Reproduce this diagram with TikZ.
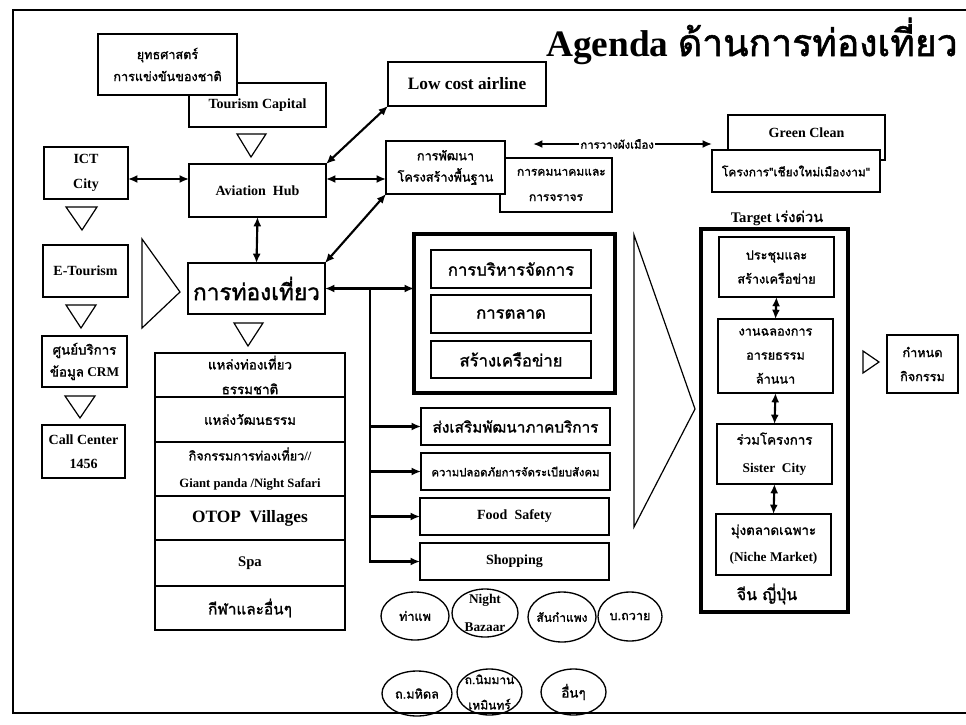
\documentclass[tikz,border=0pt]{standalone}
\usepackage{fontspec}
\setmainfont{Liberation Serif}
\newfontfamily\thf[Script=Thai, AutoFakeBold=1.5]{Loma}
\usetikzlibrary{arrows.meta,shapes.geometric}

% one unit = one pixel of a 966 x 724 sheet, y running downwards
% \pbox[style]{name}{x1}{y1}{x2}{y2}{font}{text}
\newcommand\pbox[8][bx]{%
  \node[#1, font={\bfseries#7}, minimum width={(#5-#3)*0.75pt},
        minimum height={(#6-#4)*0.75pt}]
    (#2) at ({(#3+#5)/2},{(#4+#6)/2}) {#8};}
\newcommand\fs[2]{\fontsize{#1}{#2}\selectfont}

\tikzset{
  bx/.style={draw, line width=1pt, fill=white, inner sep=0pt, outer sep=0pt,
             align=center},
  fat/.style={draw, line width=3pt, inner sep=0pt, outer sep=0pt},
  bubble/.style={draw, ellipse, line width=1pt, inner sep=0pt, outer sep=0pt},
  tri/.style={draw, line width=0.9pt, fill=white, line join=miter},
  link/.style={line width=1.6pt, {Latex[length=7pt,width=6pt]}-{Latex[length=7pt,width=6pt]}},
  feed/.style={line width=1.6pt, -{Latex[length=7pt,width=6pt]}},
  lbl/.style={inner sep=0pt, align=center},
}

\begin{document}
\begin{tikzpicture}[x=0.75pt, y=-0.75pt]
\useasboundingbox (0,0) rectangle (966,724);

% sheet frame
\draw[line width=1.5pt] (966,10) -- (13,10) -- (13,713) -- (966,713);

% title
\node[lbl, anchor=east, font=\bfseries\fs{28}{32}] (title) at (958,41)
  {Agenda {\thf ด้านการท่องเที่ยว}};

% top-left cluster
\pbox{tcap}{189}{83}{326}{127}{\fs{10.5}{12}}{\raisebox{-3pt}{Tourism Capital}}
\pbox{strat}{98}{34}{237}{95}{\thf\fs{9.5}{16.5}}{ยุทธศาสตร์\\การแข่งขันของชาติ}
\draw[tri] (237,134) -- (266,134) -- (251,157) -- cycle;

\pbox{ict}{44}{147}{128}{199}{\fs{10.5}{19}}{ICT\\City}
\pbox{avi}{189}{164}{326}{217}{\fs{10.5}{12}}{Aviation\ \ Hub}
\pbox{lowcost}{388}{62}{546}{106}{\fs{13}{15}}{Low cost airline}

\pbox{traffic}{500}{158}{612}{212}{\thf\fs{9}{19}}{\hspace*{8pt}การคมนาคมและ\\การจราจร}
\pbox{dev}{386}{141}{505}{194}{\thf\fs{9.5}{16}}{การพัฒนา\\โครงสร้างพื้นฐาน}

\pbox{green}{728}{115}{885}{160}{\fs{10.5}{12}}{\raisebox{8pt}{Green Clean}}
\pbox{cmnice}{712}{150}{880}{192}{\thf\fs{9}{12}}{โครงการ"เชียงใหม่เมืองงาม"}

\coordinate (pa) at (533,144);
\coordinate (pb) at (712,144);
\draw[link] (pa) -- node[lbl, fill=white, inner xsep=1pt, pos=0.47,
  font=\bfseries\thf\fs{8.5}{10}] (plan) {การวางผังเมือง} (pb);

% left column
\draw[tri] (66,207) -- (97,207) -- (82,230) -- cycle;
\pbox{etour}{43}{245}{128}{297}{\fs{10.5}{12}}{E-Tourism}
\draw[tri] (66,305) -- (96,305) -- (81,328) -- cycle;
\pbox{crm}{42}{336}{127}{387}{\fs{10}{16.5}}{{\thf ศูนย์บริการ}\\{\thf ข้อมูล} CRM}
\draw[tri] (65,396) -- (95,396) -- (80,418) -- cycle;
\pbox{call}{42}{425}{125}{478}{\fs{10.5}{18}}{Call Center\\1456}

\draw[tri] (142,239) -- (180,292) -- (142,328) -- cycle;

% tourism core
\pbox{tour}{188}{263}{325}{314}{\thf\fs{17}{20}}{การท่องเที่ยว}
\draw[tri] (234,323) -- (263,323) -- (248,346) -- cycle;

\pbox{r1}{155}{353}{345}{397}{\thf\fs{10}{18.5}}{แหล่งท่องเที่ยว\\ธรรมชาติ}
\pbox{r2}{155}{397}{345}{442}{\thf\fs{10}{12}}{แหล่งวัฒนธรรม}
\pbox{r3}{155}{442}{345}{496}{\fs{9.5}{20.5}}{{\thf กิจกรรมการท่องเที่ยว}//\\Giant panda /Night Safari}
\pbox{r4}{155}{496}{345}{540}{\fs{13}{15}}{OTOP\ \ Villages}
\pbox{r5}{155}{540}{345}{586}{\fs{11}{13}}{Spa}
\pbox{r6}{155}{586}{345}{630}{\thf\fs{11.5}{14}}{กีฬาและอื่นๆ}

% management block
\pbox[fat]{mgmt}{414}{234}{615}{393}{}{}
\pbox{m1}{431}{250}{591}{288}{\thf\fs{12.5}{15}}{การบริหารจัดการ}
\pbox{m2}{431}{295}{591}{333}{\thf\fs{12.5}{15}}{การตลาด}
\pbox{m3}{431}{341}{591}{378}{\thf\fs{12.5}{15}}{สร้างเครือข่าย}

\pbox{s1}{421}{408}{610}{445}{\thf\fs{11.5}{14}}{ส่งเสริมพัฒนาภาคบริการ}
\pbox{s2}{421}{453}{610}{490}{\thf\fs{8.5}{10}}{ความปลอดภัยการจัดระเบียบสังคม}
\pbox{s3}{420}{498}{609}{535}{\fs{10.5}{12}}{Food\ \ Safety}
\pbox{s4}{420}{543}{609}{580}{\fs{10.5}{12}}{Shopping}

% shopping areas: outline first, then the name on it
\pbox[bubble]{e1}{381}{592}{449}{640}{}{}
\pbox[bubble]{e2}{452}{589}{518}{637}{}{}
\pbox[bubble]{e3}{528}{592}{596}{642}{}{}
\pbox[bubble]{e4}{598}{592}{662}{641}{}{}
\pbox[bubble]{e5}{382}{671}{452}{716}{}{}
\pbox[bubble]{e6}{457}{669}{522}{715}{}{}
\pbox[bubble]{e7}{541}{669}{606}{715}{}{}
\node[lbl, font=\bfseries\thf\fs{9.5}{12}] (e1t) at (e1) {ท่าแพ};
\node[lbl, font=\bfseries\fs{10}{21}] (e2t) at (e2) {Night\\Bazaar};
\node[lbl, font=\bfseries\thf\fs{9}{12}] (e3t) at (e3) {สันกำแพง};
\node[lbl, font=\bfseries\thf\fs{9.5}{12}] (e4t) at (e4) {บ.ถวาย};
\node[lbl, font=\bfseries\thf\fs{9.5}{12}] (e5t) at (e5) {ถ.มหิดล};
\node[lbl, font=\bfseries\thf\fs{9}{19}] (e6t) at (e6) {ถ.นิมมาน\\เหมินทร์};
\node[lbl, font=\bfseries\thf\fs{10}{12}] (e7t) at (e7) {อื่นๆ};

% urgent targets
\draw[line width=0.9pt, line join=miter] (634,235) -- (695,409) -- (634,527) -- cycle;
\node[lbl, font=\bfseries\fs{11}{13}] (tgt) at (777,218) {Target {\thf เร่งด่วน}};
\pbox[fat]{tbox}{701}{229}{848}{612}{}{}
\pbox{t1}{719}{237}{834}{297}{\thf\fs{9.5}{18}}{ประชุมและ\\สร้างเครือข่าย}
\pbox{t2}{718}{319}{833}{393}{\thf\fs{9.5}{18}}{งานฉลองการ\\อารยธรรม\\ล้านนา}
\pbox{t3}{717}{424}{832}{484}{\fs{10}{21}}{{\thf ร่วมโครงการ}\\Sister\ \ City}
\pbox{t4}{716}{514}{831}{575}{\fs{10}{20}}{{\thf มุ่งตลาดเฉพาะ}\\(Niche Market)}
\node[lbl, font=\bfseries\thf\fs{12}{14}] (cj) at (767,594) {จีน ญี่ปุ่น};

\draw[tri] (863,351) -- (879,362) -- (863,373) -- cycle;
\pbox{act}{887}{335}{958}{393}{\thf\fs{9.5}{18}}{กำหนด\\กิจกรรม}

% connectors
\coordinate (ya) at (0,179);
\draw[link] (ict.east |- ya) -- (avi.west |- ya);
\draw[link] (avi.east |- ya) -- (dev.west |- ya);
\draw[link] (avi.north east) -- (lowcost.south west);
\draw[link] (avi.south) -- (tour.north);
\draw[link] (dev.south west) -- (tour.north east);
\draw[link] (tour.east) -- (tour.east -| mgmt.west);

\coordinate (bus) at (370,0);
\draw[feed] (tour.east -| bus) |- (s4.west);
\draw[feed] (s1.west -| bus) -- (s1.west);
\draw[feed] (s2.west -| bus) -- (s2.west);
\draw[feed] (s3.west -| bus) -- (s3.west);

\draw[link] (t1.south) -- (t2.north);
\draw[link] (t2.south) -- (t3.north);
\draw[link] (t3.south) -- (t4.north);
\end{tikzpicture}
\end{document}
